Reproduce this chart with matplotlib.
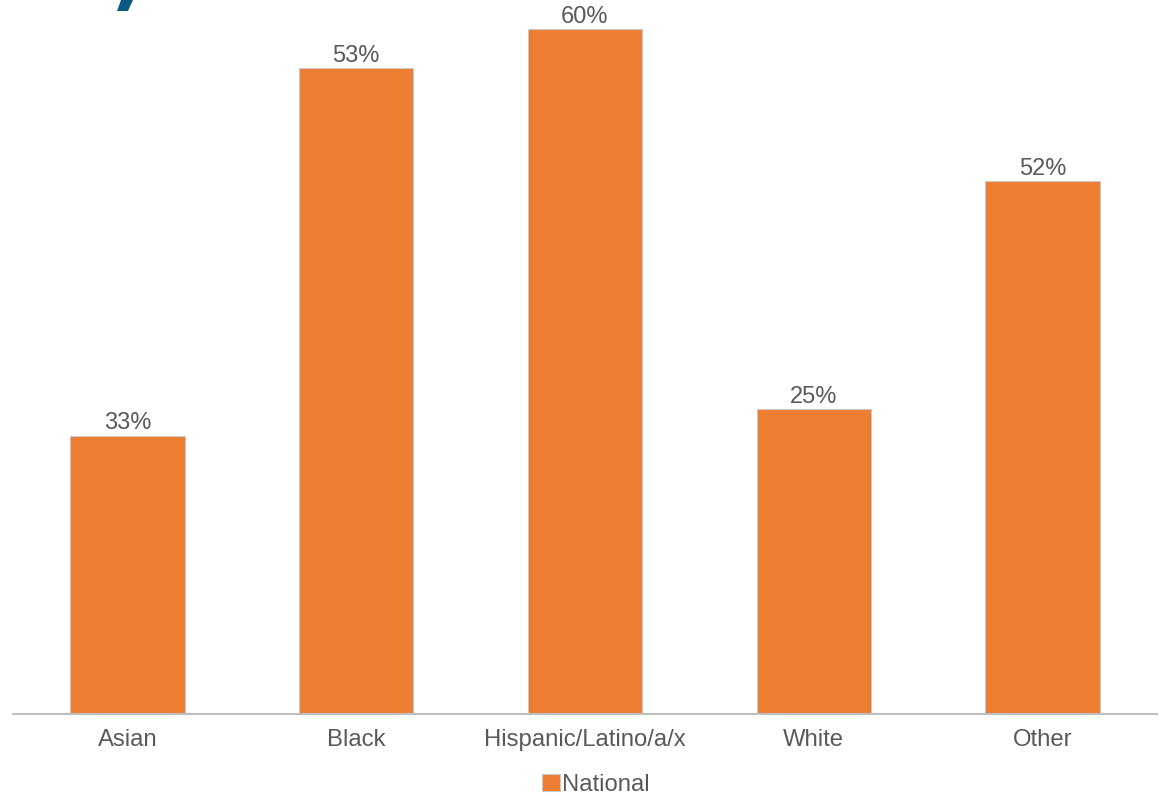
import matplotlib
matplotlib.use("Agg")
import matplotlib.pyplot as plt
from matplotlib.patches import Polygon

categories = ["Asian", "Black", "Hispanic/Latino/a/x", "White", "Other"]
# bar heights as drawn in the picture (they do not follow the printed labels)
bar_heights = [24.4, 56.6, 60.0, 26.7, 46.7]
bar_labels = ["33%", "53%", "60%", "25%", "52%"]
series_name = "National"

W, H = 1163, 796
fig = plt.figure(figsize=(W / 100, H / 100), dpi=100)
plt.rcParams["font.family"] = ["Liberation Sans", "DejaVu Sans"]

# axes placed in pixel terms: baseline at y=714, spanning x 13..1157
ax = fig.add_axes([13 / W, (H - 714) / H, 1144 / W, 714 / H])
ax.set_xlim(-0.5, len(categories) - 0.5)
ax.set_ylim(0, 714 / 11.41)

bars = ax.bar(
    range(len(categories)),
    bar_heights,
    width=0.5,
    color="#ED7D31",
    edgecolor="#C9C9C9",
    linewidth=0.8,
    label=series_name,
    zorder=2,
)
ax.bar_label(bars, labels=bar_labels, padding=1, fontsize=17, color="#595959")

for side in ["top", "right", "left"]:
    ax.spines[side].set_visible(False)
ax.spines["bottom"].set_color("#BFBFBF")
ax.spines["bottom"].set_linewidth(1.5)
ax.set_yticks([])
ax.set_xticks(range(len(categories)))
ax.set_xticklabels(categories, fontsize=17.2, color="#595959")
ax.tick_params(axis="x", length=0, pad=11)

fig.legend(
    handles=[bars],
    labels=[series_name],
    loc="center",
    bbox_to_anchor=(596 / W, 1 - 785 / H),
    frameon=False,
    fontsize=17.2,
    labelcolor="#595959",
    handlelength=0.75,
    handleheight=0.75,
    handletextpad=0.1,
    borderpad=0,
)

# cropped fragment of the dark blue title in the top-left corner
frag = [(121, 0), (133, 0), (128, 11), (117, 11)]
fig.patches.append(
    Polygon(
        [(x / W, 1 - y / H) for x, y in frag],
        closed=True,
        transform=fig.transFigure,
        facecolor="#0B5A82",
        edgecolor="none",
    )
)

fig.savefig("out.png", dpi=100, facecolor="white")
